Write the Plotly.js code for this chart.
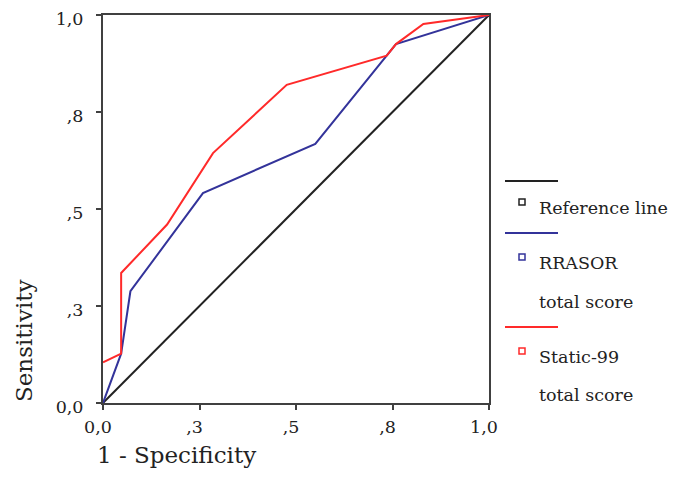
<!DOCTYPE html>
<html>
<head>
<meta charset="utf-8">
<script src="https://cdn.plot.ly/plotly-3.0.1.min.js"></script>
<style>html,body{margin:0;padding:0;background:#fff;}#chart{width:673px;height:495px;}</style>
</head>
<body>
<div id="chart"></div>
<script>
// ---- data ----
var tickVals = [0, 0.25, 0.5, 0.75, 1];
var tickLabels = ["0,0", ",3", ",5", ",8", "1,0"];

var refX = [0, 1];
var refY = [0, 1];

var rrasorFpr = [0, 0.047, 0.071, 0.259, 0.550, 0.735, 0.759, 1];
var rrasorTpr = [0, 0.127, 0.288, 0.541, 0.668, 0.895, 0.925, 1];

var staticFpr = [0, 0.047, 0.047, 0.166, 0.285, 0.476, 0.735, 0.759, 0.830, 1];
var staticTpr = [0.105, 0.127, 0.335, 0.460, 0.644, 0.820, 0.895, 0.925, 0.977, 1];

var seriesNames = ["Reference line", "RRASOR total score", "Static-99 total score"];
var legendLines = [["Reference line"], ["RRASOR", "total score"], ["Static-99", "total score"]];
var seriesColors = ["#222222", "#33339a", "#ff2a2a"];

// ---- layout helpers (pixel -> paper) ----
var W = 673, H = 495, L = 103, R = 489, T = 15, B = 403;
function px(x) { return (x - L) / (R - L); }
function py(y) { return (B - y) / (B - T); }

var FONT = "DejaVu Serif";

var traces = [
  {x: refX, y: refY, name: seriesNames[0], mode: "lines", line: {color: seriesColors[0], width: 2}},
  {x: rrasorFpr, y: rrasorTpr, name: seriesNames[1], mode: "lines", line: {color: seriesColors[1], width: 2}},
  {x: staticFpr, y: staticTpr, name: seriesNames[2], mode: "lines", line: {color: seriesColors[2], width: 2}}
];

// manual SPSS-style legend
var shapes = [];
var annotations = [];
var lineY = [181, 233, 327];
var boxY = [202, 257, 351];
var textY = [[208], [263, 302], [357, 395]];
for (var i = 0; i < 3; i++) {
  shapes.push({type: "line", xref: "paper", yref: "paper",
    x0: px(505), x1: px(558), y0: py(lineY[i]), y1: py(lineY[i]),
    line: {color: seriesColors[i], width: 2}});
  shapes.push({type: "rect", xref: "paper", yref: "paper",
    x0: px(519), x1: px(525), y0: py(boxY[i] + 3), y1: py(boxY[i] - 3),
    fillcolor: "#ffffff", line: {color: seriesColors[i], width: 1.5}});
  for (var j = 0; j < legendLines[i].length; j++) {
    annotations.push({xref: "paper", yref: "paper", x: px(537), y: py(textY[i][j]),
      xanchor: "left", yanchor: "middle", showarrow: false, text: legendLines[i][j],
      font: {family: FONT, size: 17.5, color: "#222"}});
  }
}
// axis titles
annotations.push({xref: "paper", yref: "paper", x: px(95), y: py(455), xanchor: "left", yanchor: "middle",
  showarrow: false, text: "1 - Specificity", font: {family: FONT, size: 23, color: "#222"}});
annotations.push({xref: "paper", yref: "paper", x: px(24), y: py(341), xanchor: "center", yanchor: "middle",
  showarrow: false, textangle: -90, text: "Sensitivity", font: {family: FONT, size: 23, color: "#222"}});

var axisCommon = {
  range: [0, 1], tickvals: tickVals, ticktext: tickLabels,
  showgrid: false, zeroline: false, showline: true, mirror: true,
  linecolor: "#404040", linewidth: 2, ticks: "outside", ticklen: 5, tickwidth: 2, tickcolor: "#404040",
  tickfont: {family: FONT, size: 17.5, color: "#222"}, fixedrange: true
};

var layout = {
  width: W, height: H,
  margin: {l: L, r: W - R, t: T, b: H - B, pad: 0},
  paper_bgcolor: "#ffffff", plot_bgcolor: "#ffffff",
  showlegend: false,
  xaxis: Object.assign({}, axisCommon, {ticklabelstandoff: 2, ticklabelshift: -5}),
  yaxis: Object.assign({}, axisCommon, {ticklabelstandoff: 9, ticklabelshift: 4}),
  shapes: shapes,
  annotations: annotations,
  font: {family: FONT}
};

Plotly.newPlot("chart", traces, layout, {displayModeBar: false, staticPlot: true});
</script>
</body>
</html>
